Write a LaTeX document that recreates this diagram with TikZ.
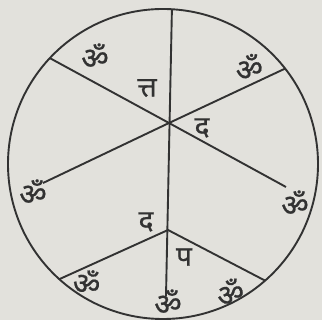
\documentclass[tikz,border=0pt]{standalone}
\usepackage{fontspec}
\newfontfamily\devfont[Script=Devanagari,FakeBold=0.6]{Noto Sans}
\definecolor{paper}{RGB}{226,225,220}
\definecolor{ink}{RGB}{50,50,50}

\begin{document}
\begin{tikzpicture}[x=1pt, y=-1pt,
    spoke/.style={ink, line width=1.9pt},
    om/.style={font=\devfont\fontsize{30}{30}\selectfont, text=ink, inner sep=0pt},
    akshar/.style={font=\devfont\fontsize{28}{28}\selectfont, text=ink, inner sep=0pt}]

        % paper
        \fill[paper] (0,0) rectangle (322,320);
        \useasboundingbox (0,0) rectangle (322,320);

        % wheel
        \coordinate (O) at (163,164);
        \draw[spoke] (O) circle[radius=155pt];

        % hubs and rim points
        \coordinate (hub) at (169,123);
        \coordinate (low) at (168,230);
        \path (O) ++(86.7:155pt) coordinate (top);
        \path (O) ++(136.9:155pt) coordinate (rimNW);
        \path (O) ++(38:155pt) coordinate (rimNE);
        \path (O) ++(-132:155pt) coordinate (rimSW);
        \path (O) ++(-48.8:155pt) coordinate (rimSE);
        \coordinate (endW) at (43,183);
        \coordinate (endE) at (286,187);
        \coordinate (endS) at (166,296);

        % spokes
        \draw[spoke] (top) -- (endS);
        \draw[spoke] (rimNW) -- (hub) -- (endE);
        \draw[spoke] (rimNE) -- (hub) -- (endW);
        \draw[spoke] (rimSW) -- (low) -- (rimSE);

        % letters
        \node[om] (omNW) at (95,56) {ॐ};
        \node[om, rotate=8] (omNE) at (249,67) {ॐ};
        \node[om] (omW) at (33,192) {ॐ};
        \node[om] (omE) at (295,203) {ॐ};
        \node[om, rotate=-10] (omSW) at (87,282) {ॐ};
        \node[om, rotate=15] (omSE) at (230,292) {ॐ};
        \node[om] (omS) at (168,302) {ॐ};
        \node[akshar] (tta) at (147,88) {त्त};
        \node[akshar] (daE) at (202,128) {द};
        \node[akshar] (daS) at (146,222) {द};
        \node[akshar] (pa) at (184,257) {प};
\end{tikzpicture}
\end{document}
